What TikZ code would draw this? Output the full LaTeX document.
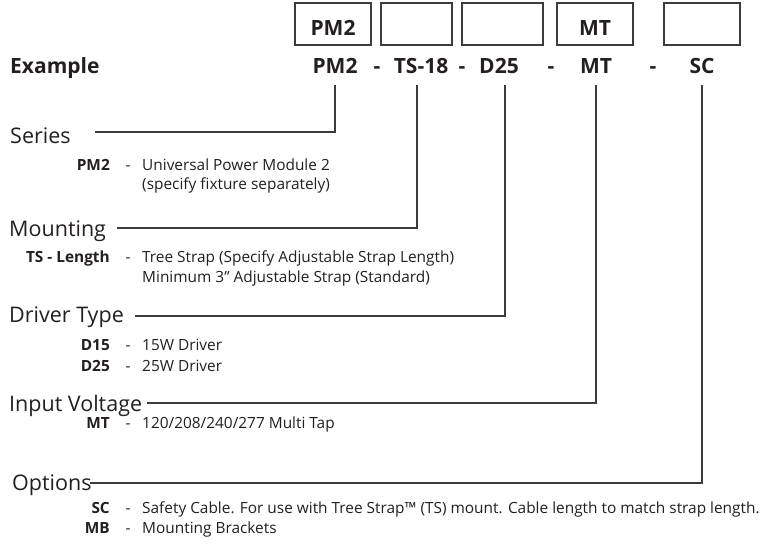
\documentclass[tikz,border=0pt]{standalone}
\usepackage{fontspec}
\setmainfont{Open Sans}
\usetikzlibrary{positioning}
\definecolor{cattext}{HTML}{231F20}
\definecolor{catline}{HTML}{3C3C3C}
\tikzset{
  font=\fontsize{15.4}{18}\selectfont,
  heading/.style={anchor=base west,inner sep=0pt,text=cattext,
                  font=\fontsize{21.5}{25}\selectfont},
  pcode/.style={anchor=base,inner sep=0pt,text=cattext,
                font=\fontsize{21}{25}\selectfont\bfseries},
  codebox/.style={draw=catline,line width=1.2pt,minimum height=42pt,inner sep=0pt,
                  text=cattext,font=\fontsize{21}{25}\selectfont\bfseries,
                  text height=22pt,text depth=0pt},
  optkey/.style={anchor=base east,inner sep=0pt,text=cattext,
                 font=\fontsize{15.4}{18}\selectfont\bfseries},
  dashlbl/.style={anchor=base,inner sep=0pt,text=cattext},
  desc/.style={anchor=base west,inner sep=0pt,text=cattext},
  leader/.style={draw=catline,line width=1.2pt},
}
\begin{document}
\begin{tikzpicture}[x=1pt,y=-1pt]
  \useasboundingbox (0,0) rectangle (765,550);
  % ---- order boxes ----
  \node[codebox,minimum width=76pt] (bxSeries) at (333,24)   {PM2};
  \node[codebox,minimum width=71pt] (bxMount)  at (416.5,24) {};
  \node[codebox,minimum width=81pt] (bxDriver) at (502.5,24) {};
  \node[codebox,minimum width=76pt] (bxInput)  at (595,24)   {MT};
  \node[codebox,minimum width=76pt] (bxOpt)    at (702,24)   {};

  % ---- example part number ----
  \node[pcode,anchor=base west] (example) at (10,73) {Example};
  \node[pcode] (cSeries) at (335,73) {PM2};
  \node[pcode] (dashA)   at (377,73) {-};
  \node[pcode] (cMount)  at (421,73) {TS-18};
  \node[pcode] (dashB)   at (462,73) {-};
  \node[pcode] (cDriver) at (499,73) {D25};
  \node[pcode] (dashC)   at (551,73) {-};
  \node[pcode] (cInput)  at (596,73) {MT};
  \node[pcode] (dashD)   at (653,73) {-};
  \node[pcode] (cOpt)    at (702,73) {SC};

  % ---- series ----
  \node[heading] (hSeries) at (10,143) {Series};
  \coordinate (lSeries) at (95,132);
  \draw[leader] ([yshift=-12pt]cSeries.south) |- (lSeries);
  \node[optkey]  (kPM2)  at (110,170) {PM2};
  \node[dashlbl] (sPM2)  at (128,170) {-};
  \node[desc]    (tPM2)  at (142,170) {Universal Power Module 2};
  \node[desc]    (tPM2b) at (142,189) {(specify fixture separately)};

  % ---- mounting ----
  \node[heading] (hMount) at (9,236) {Mounting};
  \coordinate (lMount) at (117,228);
  \draw[leader] ([xshift=-4pt,yshift=-12pt]cMount.south) |- (lMount);
  \node[optkey]  (kTS)  at (110,262) {TS - Length};
  \node[dashlbl] (sTS)  at (128,262) {-};
  \node[desc]    (tTS)  at (142,262) {Tree Strap (Specify Adjustable Strap Length)};
  \node[desc]    (tTSb) at (142,282) {Minimum 3” Adjustable Strap (Standard)};

  % ---- driver type ----
  \node[heading] (hDriver) at (9,322) {Driver Type};
  \coordinate (lDriver) at (135,316);
  \draw[leader] ([xshift=6pt,yshift=-12pt]cDriver.south) |- (lDriver);
  \node[optkey]  (kD15) at (110,350) {D15};
  \node[dashlbl] (sD15) at (128,350) {-};
  \node[desc]    (tD15) at (142,350) {15W Driver};
  \node[optkey]  (kD25) at (110,371) {D25};
  \node[dashlbl] (sD25) at (128,371) {-};
  \node[desc]    (tD25) at (142,371) {25W Driver};

  % ---- input voltage ----
  \node[heading] (hInput) at (9,411) {Input Voltage};
  \coordinate (lInput) at (147,403);
  \draw[leader] ([yshift=-12pt]cInput.south) |- (lInput);
  \node[optkey]  (kMT) at (110,428) {MT};
  \node[dashlbl] (sMT) at (128,428) {-};
  \node[desc]    (tMT) at (142,428) {120/208/240/277 Multi Tap};

  % ---- options ----
  \node[heading] (hOpt) at (12,490) {Options};
  \coordinate (lOpt) at (90,483);
  \draw[leader] ([yshift=-12pt]cOpt.south) |- (lOpt);
  \node[optkey]  (kSC) at (110,513) {SC};
  \node[dashlbl] (sSC) at (128,513) {-};
  \node[desc]    (tSC) at (142,513)
    {Safety Cable. For use with Tree Strap™ (TS) mount. Cable length to match strap length.};
  \node[optkey]  (kMB) at (110,533) {MB};
  \node[dashlbl] (sMB) at (128,533) {-};
  \node[desc]    (tMB) at (142,533) {Mounting Brackets};
\end{tikzpicture}
\end{document}
